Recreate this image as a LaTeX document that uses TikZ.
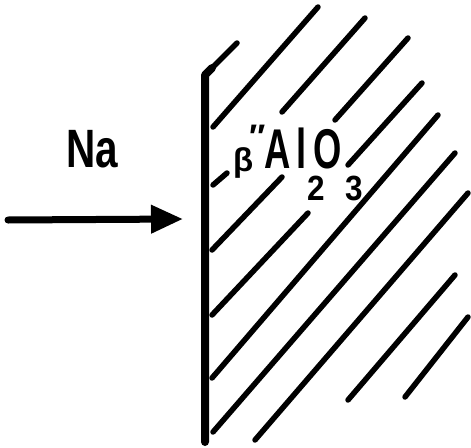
\documentclass[tikz,border=0pt]{standalone}
\usepackage{fontspec}
\setmainfont{Liberation Sans}
\usetikzlibrary{arrows.meta}

\begin{document}
\begin{tikzpicture}[x=1pt, y=-1pt,
    hatch/.style={line width=5.5pt, line cap=round},
    wall/.style={line width=8pt, line cap=round, line join=round},
    lbl/.style={inner sep=0pt, anchor=base west, text depth=0pt}]
  \useasboundingbox (0,0) rectangle (471,447);

  % Wall
  \draw[wall] (205,442) -- (205,75) -- (212,68);

  % Hatching, broken where the formula sits
  \draw[hatch] (212,68) -- (237,43);
  \draw[hatch] (213,127) -- (318,7);
  \draw[hatch] (213,185) -- (227,173);
  \draw[hatch] (282,112) -- (365,18);
  \draw[hatch] (212,250) -- (282,177);
  \draw[hatch] (335,120) -- (408,38);
  \draw[hatch] (212,315) -- (308,213);
  \draw[hatch] (348,165) -- (422,83);
  \draw[hatch] (212,378) -- (438,115);
  \draw[hatch] (213,432) -- (455,153);
  \draw[hatch] (255,440) -- (468,193);
  \draw[hatch] (348,400) -- (455,275);
  \draw[hatch] (405,397) -- (468,317);

  % Formula
  \node[lbl, font=\bfseries\fontsize{33}{33}\selectfont] (beta) at (233,171) {β};
  \node[lbl, font=\bfseries\fontsize{34}{34}\selectfont] (prime) at (249,148) {″};
  \node[lbl, xscale=0.65, font=\bfseries\fontsize{56}{56}\selectfont] (alo) at (264,168) {A\kern10pt l\kern10pt O};
  \node[lbl, xscale=0.9, font=\bfseries\fontsize{35}{35}\selectfont] (sub2) at (307,200) {2};
  \node[lbl, xscale=0.9, font=\bfseries\fontsize{35}{35}\selectfont] (sub3) at (345,200) {3};

  % Sodium flux
  \node[lbl, xscale=0.75, font=\bfseries\fontsize{54}{54}\selectfont] (na) at (66,167) {Na};
  \coordinate (arrowtail) at (8,220);
  \coordinate (arrowtip) at (183,219);
  \draw[line width=7pt, line cap=round, -{Triangle[length=32pt,width=27pt]}] (arrowtail) -- (arrowtip);
\end{tikzpicture}
\end{document}
